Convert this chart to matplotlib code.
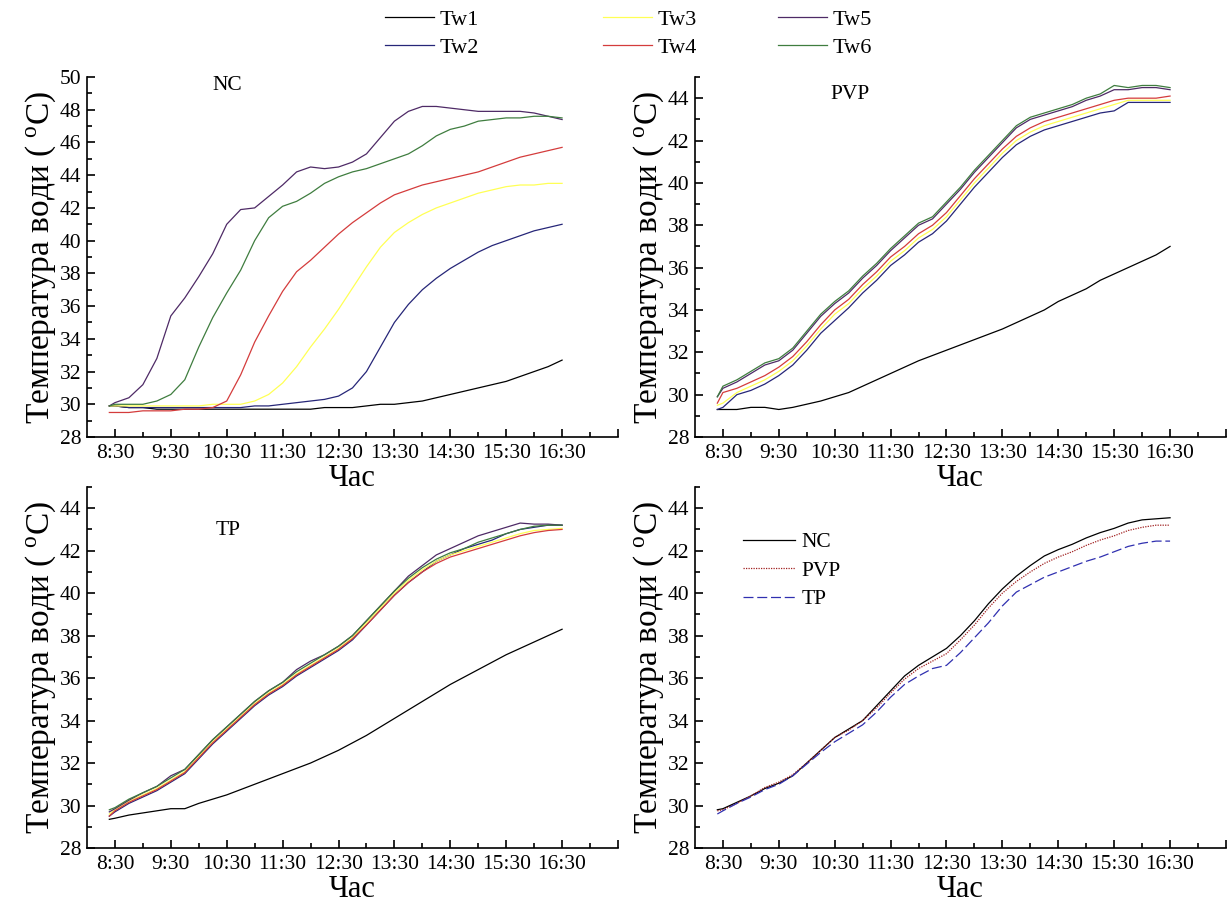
import numpy as np
import matplotlib
matplotlib.use("Agg")
from matplotlib import pyplot as plt
from matplotlib.lines import Line2D
from matplotlib.ticker import FixedLocator, MultipleLocator

plt.rcParams['font.family'] = ['Liberation Serif', 'DejaVu Serif']
plt.rcParams['mathtext.fontset'] = 'custom'
plt.rcParams['mathtext.rm'] = 'Liberation Serif'

# time grid (hours)
t = [8.4, 8.5, 8.75, 9.0, 9.25, 9.5, 9.75, 10.0, 10.25, 10.5, 10.75, 11.0,
     11.25, 11.5, 11.75, 12.0, 12.25, 12.5, 12.75, 13.0, 13.25, 13.5, 13.75,
     14.0, 14.25, 14.5, 14.75, 15.0, 15.25, 15.5, 15.75, 16.0, 16.25, 16.5]

# NC panel
nc_tw1 = [29.9, 29.9, 29.8, 29.8, 29.7, 29.7, 29.7, 29.7, 29.7, 29.7, 29.7, 29.7,
          29.7, 29.7, 29.7, 29.7, 29.8, 29.8, 29.8, 29.9, 30.0, 30.0, 30.1,
          30.2, 30.4, 30.6, 30.8, 31.0, 31.2, 31.4, 31.7, 32.0, 32.3, 32.7]
nc_tw2 = [29.9, 29.9, 29.8, 29.8, 29.8, 29.8, 29.8, 29.8, 29.8, 29.8, 29.8, 29.9,
          29.9, 30.0, 30.1, 30.2, 30.3, 30.5, 31.0, 32.0, 33.5, 35.0, 36.1,
          37.0, 37.7, 38.3, 38.8, 39.3, 39.7, 40.0, 40.3, 40.6, 40.8, 41.0]
nc_tw3 = [29.9, 29.9, 29.9, 29.9, 29.9, 29.9, 29.9, 29.9, 30.0, 30.0, 30.0, 30.2,
          30.6, 31.3, 32.3, 33.5, 34.6, 35.8, 37.1, 38.4, 39.6, 40.5, 41.1,
          41.6, 42.0, 42.3, 42.6, 42.9, 43.1, 43.3, 43.4, 43.4, 43.5, 43.5]
nc_tw4 = [29.5, 29.5, 29.5, 29.6, 29.6, 29.6, 29.7, 29.7, 29.8, 30.2, 31.8, 33.8,
          35.4, 36.9, 38.1, 38.8, 39.6, 40.4, 41.1, 41.7, 42.3, 42.8, 43.1,
          43.4, 43.6, 43.8, 44.0, 44.2, 44.5, 44.8, 45.1, 45.3, 45.5, 45.7]
nc_tw5 = [29.9, 30.1, 30.4, 31.2, 32.8, 35.4, 36.5, 37.8, 39.2, 41.0, 41.9, 42.0,
          42.7, 43.4, 44.2, 44.5, 44.4, 44.5, 44.8, 45.3, 46.3, 47.3, 47.9,
          48.2, 48.2, 48.1, 48.0, 47.9, 47.9, 47.9, 47.9, 47.8, 47.6, 47.4]
nc_tw6 = [29.9, 30.0, 30.0, 30.0, 30.2, 30.6, 31.5, 33.5, 35.3, 36.8, 38.2, 40.0,
          41.4, 42.1, 42.4, 42.9, 43.5, 43.9, 44.2, 44.4, 44.7, 45.0, 45.3,
          45.8, 46.4, 46.8, 47.0, 47.3, 47.4, 47.5, 47.5, 47.6, 47.6, 47.5]

# PVP panel
pvp_tw1 = [29.3, 29.3, 29.3, 29.4, 29.4, 29.3, 29.4, 29.55, 29.7, 29.9, 30.1, 30.4,
           30.7, 31.0, 31.3, 31.6, 31.85, 32.1, 32.35, 32.6, 32.85, 33.1, 33.4,
           33.7, 34.0, 34.4, 34.7, 35.0, 35.4, 35.7, 36.0, 36.3, 36.6, 37.0]
pvp_tw2 = [29.3, 29.4, 30.0, 30.2, 30.5, 30.9, 31.4, 32.1, 32.9, 33.5, 34.1, 34.8,
           35.4, 36.1, 36.6, 37.2, 37.6, 38.2, 39.0, 39.8, 40.5, 41.2, 41.8,
           42.2, 42.5, 42.7, 42.9, 43.1, 43.3, 43.4, 43.8, 43.8, 43.8, 43.8]
pvp_tw3 = [29.5, 29.6, 30.1, 30.4, 30.7, 31.1, 31.6, 32.3, 33.1, 33.8, 34.3, 35.0,
           35.6, 36.3, 36.8, 37.4, 37.8, 38.4, 39.2, 40.0, 40.7, 41.4, 42.0,
           42.4, 42.7, 42.9, 43.1, 43.3, 43.5, 43.7, 43.9, 43.9, 43.9, 43.9]
pvp_tw4 = [29.6, 30.1, 30.3, 30.6, 30.9, 31.3, 31.8, 32.5, 33.3, 34.0, 34.5, 35.2,
           35.8, 36.5, 37.0, 37.6, 38.0, 38.6, 39.4, 40.2, 40.9, 41.6, 42.2,
           42.6, 42.9, 43.1, 43.3, 43.5, 43.7, 43.9, 44.0, 44.0, 44.0, 44.1]
pvp_tw5 = [29.9, 30.3, 30.6, 31.0, 31.4, 31.6, 32.1, 32.9, 33.7, 34.3, 34.8, 35.5,
           36.1, 36.8, 37.4, 38.0, 38.3, 39.0, 39.7, 40.5, 41.2, 41.9, 42.6,
           43.0, 43.2, 43.4, 43.6, 43.9, 44.1, 44.4, 44.4, 44.5, 44.5, 44.4]
pvp_tw6 = [29.9, 30.4, 30.7, 31.1, 31.5, 31.7, 32.2, 33.0, 33.8, 34.4, 34.9, 35.6,
           36.2, 36.9, 37.5, 38.1, 38.4, 39.1, 39.8, 40.6, 41.3, 42.0, 42.7,
           43.1, 43.3, 43.5, 43.7, 44.0, 44.2, 44.6, 44.5, 44.6, 44.6, 44.5]

# TP panel
tp_tw1 = [29.35, 29.4, 29.55, 29.65, 29.75, 29.85, 29.85, 30.1, 30.3, 30.5, 30.75, 31.0,
          31.25, 31.5, 31.75, 32.0, 32.3, 32.6, 32.95, 33.3, 33.7, 34.1, 34.5,
          34.9, 35.3, 35.7, 36.05, 36.4, 36.75, 37.1, 37.4, 37.7, 38.0, 38.3]
tp_tw2 = [29.5, 29.7, 30.1, 30.4, 30.7, 31.1, 31.5, 32.2, 32.9, 33.5, 34.1, 34.7,
          35.2, 35.6, 36.1, 36.5, 36.9, 37.3, 37.8, 38.5, 39.2, 39.9, 40.5,
          41.0, 41.5, 41.8, 42.1, 42.3, 42.5, 42.8, 43.0, 43.1, 43.2, 43.2]
tp_tw3 = [29.6, 29.8, 30.2, 30.5, 30.8, 31.2, 31.6, 32.3, 33.0, 33.6, 34.2, 34.8,
          35.3, 35.7, 36.2, 36.6, 37.0, 37.4, 37.9, 38.6, 39.3, 40.0, 40.6,
          41.1, 41.5, 41.8, 42.0, 42.2, 42.4, 42.6, 42.8, 42.95, 43.0, 43.05]
tp_tw4 = [29.5, 29.75, 30.15, 30.45, 30.75, 31.15, 31.55, 32.25, 32.95, 33.55, 34.15, 34.75,
          35.25, 35.65, 36.15, 36.55, 36.95, 37.35, 37.85, 38.5, 39.2, 39.9, 40.5,
          41.0, 41.4, 41.7, 41.9, 42.1, 42.3, 42.5, 42.7, 42.85, 42.95, 43.0]
tp_tw5 = [29.7, 29.85, 30.25, 30.6, 30.9, 31.4, 31.7, 32.4, 33.1, 33.7, 34.3, 34.9,
          35.4, 35.8, 36.4, 36.8, 37.1, 37.5, 38.0, 38.7, 39.4, 40.1, 40.8,
          41.3, 41.8, 42.1, 42.4, 42.7, 42.9, 43.1, 43.3, 43.25, 43.25, 43.2]
tp_tw6 = [29.8, 29.9, 30.3, 30.6, 30.9, 31.3, 31.7, 32.4, 33.1, 33.7, 34.3, 34.9,
          35.4, 35.8, 36.3, 36.7, 37.1, 37.5, 38.0, 38.7, 39.4, 40.1, 40.7,
          41.2, 41.6, 41.9, 42.1, 42.4, 42.6, 42.8, 43.0, 43.15, 43.2, 43.2]

# averaged comparison panel
avg_nc = [29.8, 29.85, 30.15, 30.45, 30.8, 31.05, 31.4, 32.0, 32.6, 33.2, 33.6, 34.0,
          34.7, 35.4, 36.1, 36.6, 37.0, 37.4, 38.0, 38.7, 39.5, 40.2, 40.8,
          41.3, 41.75, 42.05, 42.3, 42.6, 42.85, 43.05, 43.3, 43.45, 43.5, 43.55]
avg_pvp = [29.75, 29.8, 30.1, 30.45, 30.85, 31.1, 31.45, 32.0, 32.6, 33.2, 33.55, 34.0,
           34.6, 35.3, 35.95, 36.45, 36.8, 37.15, 37.8, 38.5, 39.3, 40.0, 40.55,
           41.0, 41.4, 41.7, 41.95, 42.25, 42.5, 42.7, 42.95, 43.1, 43.2, 43.2]
avg_tp = [29.6, 29.75, 30.1, 30.4, 30.75, 31.0, 31.4, 31.95, 32.5, 33.0, 33.4, 33.8,
          34.4, 35.1, 35.7, 36.1, 36.45, 36.6, 37.2, 37.9, 38.6, 39.4, 40.05,
          40.4, 40.75, 41.0, 41.25, 41.5, 41.7, 41.95, 42.2, 42.35, 42.45, 42.45]

names = ["Tw1", "Tw2", "Tw3", "Tw4", "Tw5", "Tw6"]
colori = ["black", "#262678", "#ffff55", "#d43c3c", "#4e2a66", "#3f7d3f"]

major_h = np.arange(8.5, 18.0, 1.0)
minor_h = np.arange(9.0, 18.0, 1.0)
etichette = [f"{int(h)}:30" if h < 17 else "" for h in major_h]
ylab = "Температура води ( $\\mathregular{^o}$C)"

fig = plt.figure(figsize=(12.32, 9.08), dpi=100)
ax1 = fig.add_axes([0.0706, 0.5187, 0.431, 0.3965])
ax2 = fig.add_axes([0.5641, 0.5187, 0.431, 0.3965])
ax3 = fig.add_axes([0.0706, 0.0661, 0.431, 0.3976])
ax4 = fig.add_axes([0.5641, 0.0661, 0.431, 0.3976])


def sistema_assi(ax, ymax, ytop):
    ax.set_xlim(8.0, 17.5)
    ax.set_ylim(28, ymax)
    ax.xaxis.set_major_locator(FixedLocator(major_h))
    ax.xaxis.set_minor_locator(FixedLocator(minor_h))
    ax.set_xticklabels(etichette)
    ax.set_yticks(np.arange(28, ytop + 1, 2))
    ax.yaxis.set_minor_locator(MultipleLocator(1))
    ax.spines['top'].set_visible(False)
    ax.spines['right'].set_visible(False)
    for s in ('left', 'bottom'):
        ax.spines[s].set_linewidth(1.2)
    ax.tick_params(which='major', direction='in', length=6, width=1.2, labelsize=15.5, pad=4)
    ax.tick_params(axis='x', which='major', pad=5)
    ax.tick_params(which='minor', direction='in', length=3.5, width=1.2)
    ax.set_xlabel("Час", fontsize=22, labelpad=1)
    ax.set_ylabel(ylab, fontsize=24, labelpad=1)


serie = [(ax1, [nc_tw1, nc_tw2, nc_tw3, nc_tw4, nc_tw5, nc_tw6]),
         (ax2, [pvp_tw1, pvp_tw2, pvp_tw3, pvp_tw4, pvp_tw5, pvp_tw6]),
         (ax3, [tp_tw1, tp_tw2, tp_tw3, tp_tw4, tp_tw5, tp_tw6])]
for ax, dati in serie:
    for nome, col, y in zip(names, colori, dati):
        ax.plot(t, y, color=col, lw=0.9, label=nome)

sistema_assi(ax1, 50, 50)
sistema_assi(ax2, 45, 44)
sistema_assi(ax3, 45, 44)
sistema_assi(ax4, 45, 44)

ax1.text(0.265, 0.975, "NC", transform=ax1.transAxes, ha='center', va='center', fontsize=15.5)
ax2.text(0.292, 0.95, "PVP", transform=ax2.transAxes, ha='center', va='center', fontsize=15.5)
ax3.text(0.265, 0.88, "TP", transform=ax3.transAxes, ha='center', va='center', fontsize=15.5)

ax4.plot(t, avg_nc, color="black", lw=0.9, label="NC")
ax4.plot(t, avg_pvp, color="#a02020", lw=0.9, ls=(0, (1, 1)), label="PVP")
ax4.plot(t, avg_tp, color="#3030b0", lw=0.9, ls=(0, (8, 3)), label="TP")
ax4.legend(loc='upper left', bbox_to_anchor=(0.071, 0.905), frameon=False, fontsize=15.5,
           handlelength=2.4, handletextpad=0.3, labelspacing=0.4, borderpad=0)

# top legend in three blocks of two
linee = [Line2D([], [], color=c, lw=0.9) for c in colori]
for i, x0 in enumerate([385, 603, 778]):
    fig.legend(linee[2 * i:2 * i + 2], names[2 * i:2 * i + 2], loc='upper left',
               bbox_to_anchor=(x0 / 1232, 1 - 9 / 908), frameon=False, fontsize=16,
               handlelength=2.2, handletextpad=0.25, labelspacing=0.35,
               borderpad=0, borderaxespad=0)

fig.savefig("out.png", dpi=100)
